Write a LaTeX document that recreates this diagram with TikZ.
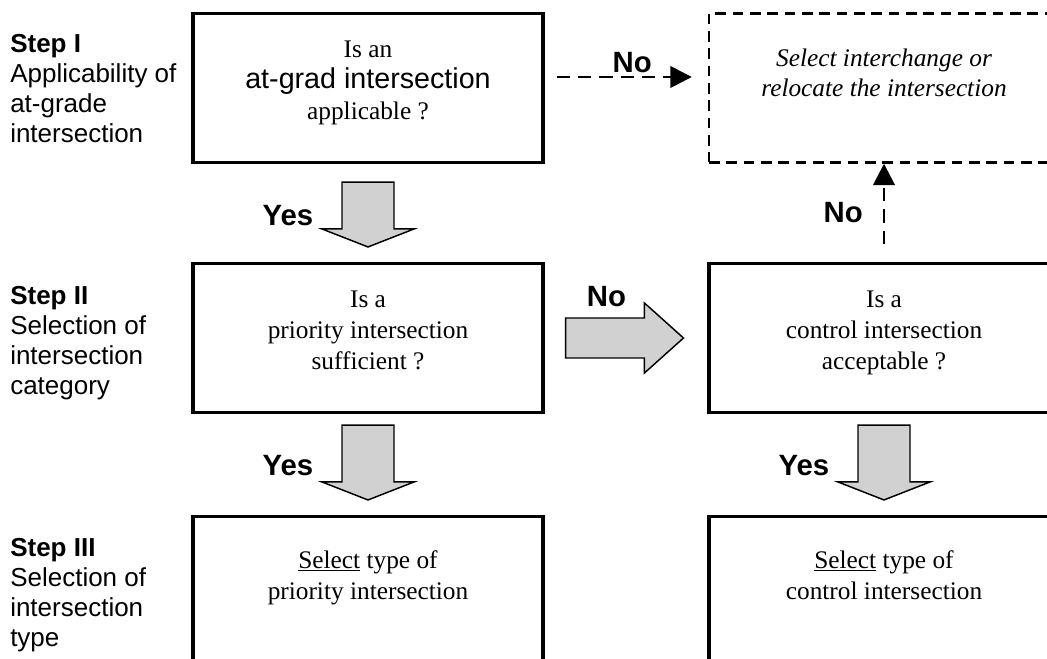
\documentclass[tikz,border=0pt]{standalone}
\usepackage{fontspec}
\setmainfont{Liberation Serif}
\setsansfont{Liberation Sans}
\usetikzlibrary{calc,arrows.meta}

% Shapes that repeat
\tikzset{
  box/.style={draw, line width=2.3pt, minimum width=262.5pt, minimum height=111.75pt,
    align=center, font=\fontsize{19}{23.5}\selectfont},
  dashbox/.style={box, line width=1.8pt, dash pattern=on 8pt off 5pt,
    font=\itshape\fontsize{19}{22.5}\selectfont},
  steplbl/.style={anchor=north west, inner sep=0pt, align=left,
    font=\sffamily\fontsize{19.5}{22.5}\selectfont},
  ans/.style={inner sep=0pt, font=\sffamily\bfseries\fontsize{22}{26}\selectfont},
  fatarrow/.style={draw, line width=1.1pt, fill=black!18, line join=miter},
  noarrow/.style={line width=2pt, dash pattern=on 10pt off 6pt,
    -{Triangle[width=16pt,length=16pt]}},
}

% Fat downward arrow between two boxes (#3 = gap below the upper box)
\newcommand{\fatdown}[3]{%
  \draw[fatarrow] ($(#1.south)+(26,#3)$) -- ($(#1.south)+(-26,#3)$)
    |- ($(#2.north)+(-46,-33)$) -- ($(#2.north)+(0,-15)$)
    -- ($(#2.north)+(46,-33)$) -| ($(#1.south)+(26,#3)$) -- cycle;
}

\begin{document}
\begin{tikzpicture}[x=0.75pt, y=-0.75pt]

% Page frame
\useasboundingbox (0,0) rectangle (1047,659);
\clip (0,0) rectangle (1047,659);

% Step labels
\node[steplbl] (s1) at (10,34) {{\bfseries Step I}\\Applicability of\\at-grade\\intersection};
\node[steplbl] (s2) at (10,286) {{\bfseries Step II}\\Selection of\\intersection\\category};
\node[steplbl] (s3) at (10,538) {{\bfseries Step III}\\Selection of\\intersection\\type};

% Left column
\node[box] (q1) at (368,88) {Is an\\{\sffamily\fontsize{21.5}{23.5}\selectfont at-grad intersection}\\applicable ?\\[-11.9pt]\mbox{}};
\node[box] (q2) at (368,338) {Is a\\priority intersection\\sufficient ?\\[-11.9pt]\mbox{}};
\node[box] (q3) at (368,591) {\underline{Select} type of\\priority intersection\\\mbox{}};

% Right column
\node[dashbox] (d1) at (884,88) {Select interchange or\\relocate the intersection\\\mbox{}};
\node[box] (c2) at (884,338) {Is a\\control intersection\\acceptable ?\\[-11.9pt]\mbox{}};
\node[box] (c3) at (884,591) {\underline{Select} type of\\control intersection\\\mbox{}};

% Yes arrows
\fatdown{q1}{q2}{18}
\fatdown{q2}{q3}{11}
\fatdown{c2}{c3}{11}
\node[ans] (yes1) at ($(q1.south)+(-80,52)$) {Yes};
\node[ans] (yes2) at ($(q2.south)+(-80,52)$) {Yes};
\node[ans] (yes3) at ($(c2.south)+(-80,52)$) {Yes};

% No arrow between the questions
\draw[fatarrow] ($(q2.east)+(21,-20)$) -- ($(q2.east)+(21,20)$)
  -- ($(c2.west)+(-63,20)$) -- ($(c2.west)+(-63,35)$) -- ($(c2.west)+(-24,0)$)
  -- ($(c2.west)+(-63,-35)$) -- ($(c2.west)+(-63,-20)$) -- cycle;
\node[ans] (no2) at ($(q2.east)+(62,-41)$) {No};

% Dashed No arrows
\draw[noarrow] ($(q1.east)+(12,-11)$) -- node[ans, above=2pt, pos=0.56] (no1) {No} ($(d1.west)+(-16,-11)$);
\draw[noarrow] ($(c2.north)+(0,-18)$) -- node[ans, left=15pt, pos=0.39] (no3) {No} (d1.south);

\end{tikzpicture}
\end{document}
